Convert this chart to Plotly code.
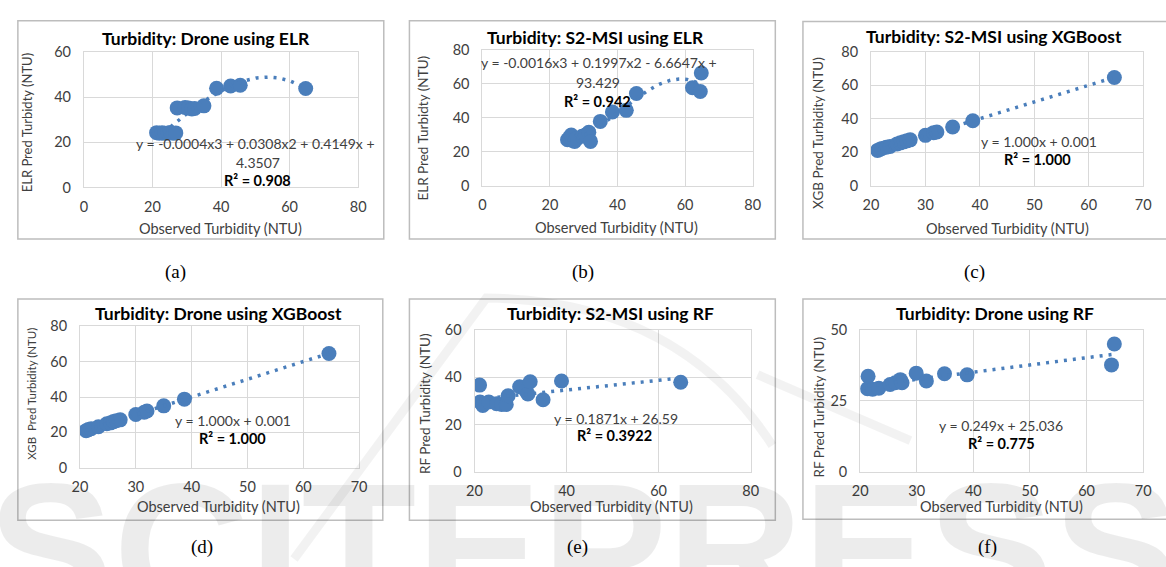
import numpy as np
import plotly.graph_objects as go

W, H = 1166, 567

# ---------------- data ----------------
a_x = [21.2, 22.0, 22.8, 23.5, 24.5, 25.3, 26.0, 26.8, 27.2, 29.5, 30.5, 31.5, 32.3, 35.0, 38.7, 42.8, 45.6, 64.7]
a_y = [24.3, 24.1, 24.3, 24.0, 24.2, 24.4, 24.1, 24.2, 35.3, 35.5, 35.2, 34.8, 35.0, 36.2, 44.0, 45.0, 45.3, 43.9]

b_x = [25.2, 25.8, 26.3, 26.7, 27.3, 27.8, 29.5, 30.5, 31.5, 32.0, 34.9, 38.5, 42.6, 45.6, 62.2, 64.5, 64.8]
b_y = [27.0, 28.3, 29.8, 26.5, 26.0, 27.5, 29.0, 29.8, 31.4, 26.0, 37.8, 43.3, 44.3, 54.2, 57.6, 55.4, 66.3]

c_x = [21.2, 21.6, 22.0, 22.8, 23.5, 24.8, 25.4, 26.0, 26.6, 27.2, 30.0, 31.5, 32.1, 35.0, 38.7, 64.7]
c_y = [21.0, 21.5, 22.2, 22.9, 23.4, 24.9, 25.5, 26.1, 26.7, 27.3, 30.0, 31.6, 32.0, 35.0, 38.7, 64.6]

d_x = [21.1, 21.5, 22.0, 23.3, 24.8, 25.5, 26.0, 26.5, 27.2, 30.0, 31.5, 32.0, 35.0, 38.7, 64.6]
d_y = [21.0, 21.6, 22.1, 23.2, 24.9, 25.4, 26.1, 26.6, 27.1, 30.1, 31.4, 32.1, 35.0, 38.8, 64.6]

e_x = [21.1, 21.2, 21.8, 23.1, 24.8, 25.9, 26.9, 27.3, 29.8, 31.2, 31.6, 32.1, 34.9, 38.9, 64.8]
e_y = [36.7, 29.5, 28.1, 29.5, 28.8, 28.5, 28.5, 32.2, 36.0, 34.2, 32.9, 38.1, 30.5, 38.4, 37.9]

f_x = [21.4, 21.3, 22.2, 23.3, 25.3, 26.2, 27.1, 27.4, 29.9, 31.7, 34.9, 38.9, 64.9, 64.4]
f_y = [33.7, 29.3, 29.1, 29.5, 30.8, 31.4, 32.5, 31.4, 34.8, 32.0, 34.6, 34.2, 45.1, 37.7]

titles = ["Turbidity: Drone using ELR", "Turbidity: S2-MSI using ELR", "Turbidity: S2-MSI using XGBoost",
          "Turbidity: Drone using XGBoost", "Turbidity: S2-MSI using RF", "Turbidity: Drone using RF"]
y_titles = ["ELR Pred Turbidty (NTU)", "ELR Pred Turbidty (NTU)", "XGB Pred Turbidity (NTU)",
            "XGB  Pred Turbidity (NTU)", "RF Pred Turbidity (NTU)", "RF Pred Turbidity (NTU)"]
x_title = "Observed Turbidity (NTU)"
eq_lines = [["y = -0.0004x3 + 0.0308x2 + 0.4149x +", "4.3507"],
            ["y = -0.0016x3 + 0.1997x2 - 6.6647x +", "93.429"],
            ["y = 1.000x + 0.001"], ["y = 1.000x + 0.001"],
            ["y = 0.1871x + 26.59"], ["y = 0.249x + 25.036"]]
r2_text = ["R² = 0.908", "R² = 0.942", "R² = 1.000", "R² = 1.000", "R² = 0.3922", "R² = 0.775"]
panel_labels = ["(a)", "(b)", "(c)", "(d)", "(e)", "(f)"]
poly_deg = [3, 3, 1, 1, 1, 1]
x_ranges = [[0, 80], [0, 80], [20, 70], [20, 70], [20, 80], [20, 70]]
x_dticks = [20, 20, 10, 10, 20, 10]
y_ranges = [[0, 60], [0, 80], [0, 80], [0, 80], [0, 60], [0, 50]]
y_dticks = [20, 20, 20, 20, 20, 25]
xs = [a_x, b_x, c_x, d_x, e_x, f_x]
ys = [a_y, b_y, c_y, d_y, e_y, f_y]

# ---------------- layout geometry (pixels) ----------------
plot_px = [(77, 355, 44.5, 184), (481, 755, 42, 182), (875, 1151, 44, 182),
           (73, 356, 327, 473), (473, 753, 331, 477), (864, 1151, 331, 477)]
box_px = [(10, 381, 12, 237), (407, 778, 12, 237), (806, 1175, 13, 237),
          (10, 380, 299, 527), (407, 778, 299, 527), (806, 1175, 299, 526)]
title_pos = [(201, 30), (596, 29), (1000, 28), (213, 314), (611, 314), (1001, 314)]
xt_pos = [(215, 226), (617, 225), (1013, 226), (213, 513), (612, 513), (1007, 513)]
yt_pos = [(20, 117), (421, 123), (821, 128), (23, 397), (423, 407), (822, 410)]
yt_size = [13, 13.5, 13.5, 11.5, 13.5, 13.5]
eq_pos = [[(251, 139), (253, 158)], [(599, 55), (598, 76)], [(1045, 137)], [(228, 424)],
          [(616, 422)], [(1007, 429)]]
r2_pos = [(253, 177), (598, 95), (1044, 155), (228, 443), (615, 440), (1007, 448)]
lab_pos = [(170, 271), (583, 271), (980, 271), (197, 555), (577, 555), (993, 555)]

def PX(px):
    return px / W

def PY(py):
    return 1 - py / H

BLUE = "#4A7EBB"
FONT = "Lato, 'Open Sans', sans-serif"

fig = go.Figure()
layout = dict(width=W, height=H, margin=dict(l=0, r=0, t=0, b=0),
              paper_bgcolor="white", plot_bgcolor="white", showlegend=False)
annotations = []
shapes = []

# faint watermark
annotations.append(dict(text="<b>SCITEPRESS</b>", x=0.5, y=PY(557), xref="paper", yref="paper",
                        xanchor="center", yanchor="middle", showarrow=False,
                        font=dict(family="Liberation Sans, Arial", size=188, color="rgba(0,0,0,0.075)")))
WM = "rgba(0,0,0,0.05)"
shapes.append(dict(type="path", xref="paper", yref="paper",
                   path=f"M {PX(290)} {PY(567)} L {PX(485)} {PY(298)} "
                        f"Q {PX(680)} {PY(300)} {PX(775)} {PY(450)}",
                   line=dict(color=WM, width=9), layer="above"))
shapes.append(dict(type="line", xref="paper", yref="paper", x0=PX(760), y0=PY(377),
                   x1=PX(915), y1=PY(445), line=dict(color=WM, width=9), layer="above"))

for i in range(6):
    n = "" if i == 0 else str(i + 1)
    xa, ya = "x" + n, "y" + n
    x = np.array(xs[i]); y = np.array(ys[i])
    coef = np.polyfit(x, y, poly_deg[i])
    xf = np.linspace(x.min(), x.max(), 200)
    yf = np.polyval(coef, xf)
    fig.add_trace(go.Scatter(x=x, y=y, mode="markers", xaxis=xa, yaxis=ya,
                             marker=dict(size=15, color=BLUE, line=dict(width=0))))
    fig.add_trace(go.Scatter(x=xf, y=yf, mode="lines", xaxis=xa, yaxis=ya,
                             line=dict(color=BLUE, width=3.5, dash="3px,6px")))
    l, r, t, b = plot_px[i]
    common = dict(showgrid=True, gridcolor="#d9d9d9", gridwidth=1, zeroline=False,
                  showline=True, linecolor="#d9d9d9", linewidth=1, mirror=True,
                  ticks="outside", tickcolor="rgba(0,0,0,0)",
                  tickfont=dict(family=FONT, size=14.5, color="#404040"))
    layout["xaxis" + n] = dict(domain=[PX(l), PX(r)], range=x_ranges[i], dtick=x_dticks[i],
                               tick0=0, anchor=ya, ticklen=6, **common)
    layout["yaxis" + n] = dict(domain=[PY(b), PY(t)], range=y_ranges[i], dtick=y_dticks[i],
                               tick0=0, anchor=xa, ticklen=9, **common)
    bl, br, bt, bb = box_px[i]
    shapes.append(dict(type="rect", xref="paper", yref="paper", x0=PX(bl), x1=PX(br),
                       y0=PY(bb), y1=PY(bt), line=dict(color="#bdbdbd", width=1.5),
                       fillcolor="rgba(0,0,0,0)", layer="below"))
    def ann(text, pos, size, color="#404040", family=FONT, angle=0):
        annotations.append(dict(text=text, x=PX(pos[0]), y=PY(pos[1]), xref="paper", yref="paper",
                                xanchor="center", yanchor="middle", showarrow=False, textangle=angle,
                                font=dict(family=family, size=size, color=color)))
    ann("<b>" + titles[i] + "</b>", title_pos[i], 17.5, color="#000000")
    ann(x_title, xt_pos[i], 14.5)
    ann(y_titles[i], yt_pos[i], yt_size[i], angle=-90)
    for line, pos in zip(eq_lines[i], eq_pos[i]):
        ann(line, pos, 14)
    ann("<b>" + r2_text[i] + "</b>", r2_pos[i], 14.5, color="#000000")
    ann(panel_labels[i], lab_pos[i], 19, color="#000000", family="Liberation Serif, 'Times New Roman', serif")

layout["annotations"] = annotations
layout["shapes"] = shapes
fig.update_layout(**layout)
fig.write_html("out.html", config={"displayModeBar": False},
               post_script="document.body.style.margin='0';document.body.style.overflow='hidden';")
